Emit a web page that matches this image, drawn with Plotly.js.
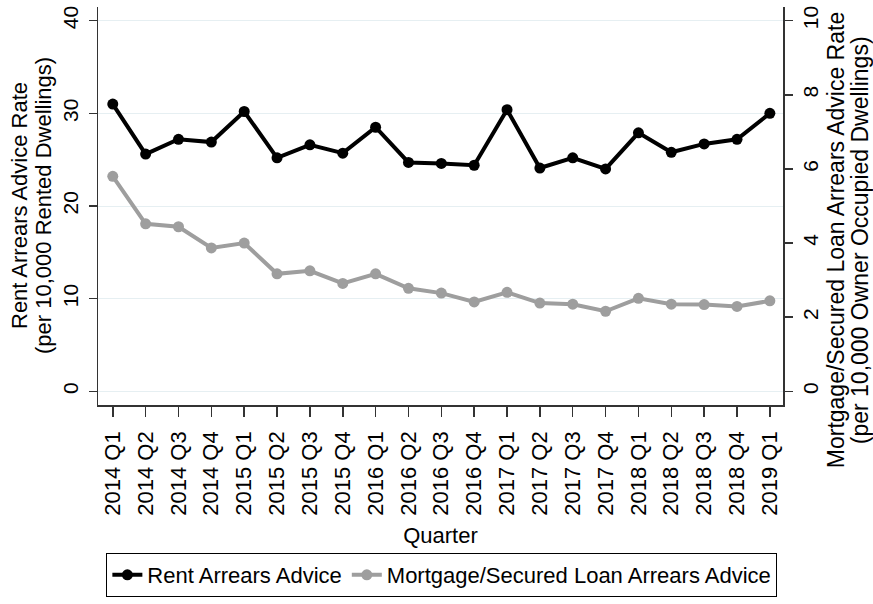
<!DOCTYPE html>
<html>
<head>
<meta charset="utf-8">
<script src="https://cdn.plot.ly/plotly-3.0.1.min.js"></script>
<style>html,body{margin:0;padding:0;background:#fff;}#chart{width:873px;height:604px;}</style>
</head>
<body>
<div id="chart"></div>
<script>
var quarters = ["2014 Q1","2014 Q2","2014 Q3","2014 Q4","2015 Q1","2015 Q2","2015 Q3","2015 Q4",
  "2016 Q1","2016 Q2","2016 Q3","2016 Q4","2017 Q1","2017 Q2","2017 Q3","2017 Q4",
  "2018 Q1","2018 Q2","2018 Q3","2018 Q4","2019 Q1"];
var rentArrears = [31.0, 25.6, 27.2, 26.9, 30.2, 25.2, 26.6, 25.7, 28.5, 24.7, 24.6, 24.4,
  30.4, 24.1, 25.2, 24.0, 27.9, 25.8, 26.7, 27.2, 30.0];
var mortgageArrears = [5.8, 4.52, 4.44, 3.87, 4.0, 3.17, 3.25, 2.91, 3.17, 2.78, 2.65, 2.41,
  2.67, 2.38, 2.35, 2.16, 2.51, 2.35, 2.34, 2.29, 2.44];
var leftTicks = [0, 10, 20, 30, 40];
var rightTicks = [0, 2, 4, 6, 8, 10];
var leftTitleLines = ["Rent Arrears Advice Rate", "(per 10,000 Rented Dwellings)"];
var rightTitleLines = ["Mortgage/Secured Loan Arrears Advice Rate", "(per 10,000 Owner Occupied Dwellings)"];

var FONT = "Liberation Sans, Arial, sans-serif";

var traces = [
  {
    x: quarters, y: rentArrears, yaxis: "y", name: "Rent Arrears Advice",
    type: "scatter", mode: "lines+markers",
    line: {color: "#000000", width: 4},
    marker: {color: "#000000", size: 11, symbol: "circle"}
  },
  {
    x: quarters, y: mortgageArrears, yaxis: "y2", name: "Mortgage/Secured Loan Arrears Advice",
    type: "scatter", mode: "lines+markers",
    line: {color: "#9e9e9e", width: 4},
    marker: {color: "#9e9e9e", size: 11, symbol: "circle"}
  }
];

function titleAnn(text, x, y, size) {
  return {text: text, xref: "paper", yref: "paper", x: x, y: y,
    xanchor: "center", yanchor: "middle", textangle: -90, showarrow: false,
    font: {family: FONT, size: size, color: "#000000"}};
}

var layout = {
  width: 873, height: 604,
  paper_bgcolor: "#ffffff", plot_bgcolor: "#ffffff",
  margin: {l: 98, r: 90, t: 7, b: 191, pad: 0},
  font: {family: FONT, color: "#000000", size: 20},
  showlegend: true,
  legend: {
    orientation: "h", x: 0.502, xanchor: "center", y: -0.372, yanchor: "top",
    bordercolor: "#000000", borderwidth: 1, bgcolor: "#ffffff",
    font: {family: FONT, size: 22, color: "#000000"},
    itemwidth: 30, tracegroupgap: 0
  },
  xaxis: {
    type: "category", range: [-0.45, 20.4],
    tickmode: "array", tickvals: quarters, ticktext: quarters,
    tickangle: -90, tickfont: {size: 22, family: FONT}, ticklabelstandoff: 6,
    ticks: "outside", ticklen: 10, tickwidth: 1.5, tickcolor: "#333333",
    showline: true, linecolor: "#333333", linewidth: 1.5, mirror: false,
    showgrid: false, zeroline: false,
    title: {text: "Quarter", font: {size: 22, family: FONT}, standoff: 13},
    automargin: false, fixedrange: true
  },
  yaxis: {
    range: [-1.48, 41.48], tickmode: "array", tickvals: leftTicks,
    tickangle: -90, tickfont: {size: 21, family: FONT}, ticklabelstandoff: 2,
    ticks: "outside", ticklen: 8, tickwidth: 1.5, tickcolor: "#333333",
    showline: true, linecolor: "#333333", linewidth: 1.5,
    showgrid: true, gridcolor: "#e6eff2", gridwidth: 1, zeroline: false,
    automargin: false, fixedrange: true
  },
  yaxis2: {
    overlaying: "y", side: "right",
    range: [-0.37, 10.37], tickmode: "array", tickvals: rightTicks,
    tickangle: -90, tickfont: {size: 21, family: FONT}, ticklabelstandoff: 0,
    ticks: "outside", ticklen: 8, tickwidth: 1.5, tickcolor: "#333333",
    showline: true, linecolor: "#333333", linewidth: 1.5,
    showgrid: false, zeroline: false,
    automargin: false, fixedrange: true
  },
  annotations: [
    titleAnn(leftTitleLines[0], (19 - 98) / 685, 0.5, 22),
    titleAnn(leftTitleLines[1], (43 - 98) / 685, 0.5, 22),
    titleAnn(rightTitleLines[0], (836 - 98) / 685, 0.414, 23),
    titleAnn(rightTitleLines[1], (860 - 98) / 685, 0.414, 23)
  ]
};

Plotly.newPlot("chart", traces, layout, {displayModeBar: false, staticPlot: true});
</script>
</body>
</html>
